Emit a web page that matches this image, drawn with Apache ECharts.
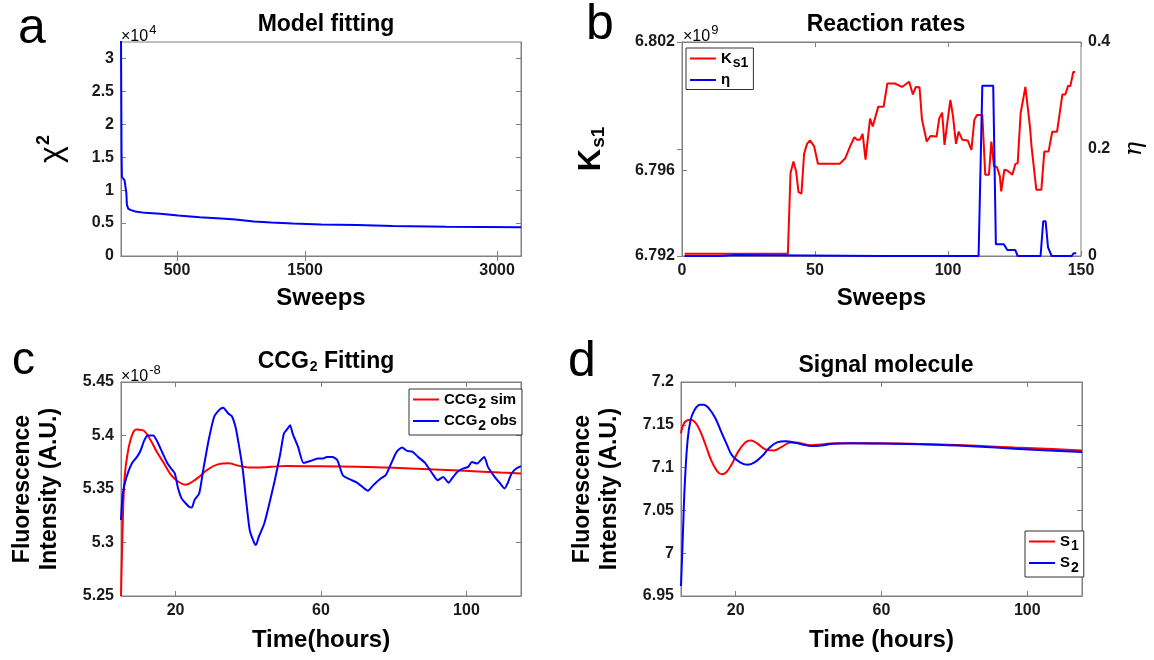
<!DOCTYPE html>
<html>
<head>
<meta charset="utf-8">
<script src="https://cdn.jsdelivr.net/npm/echarts@6/dist/echarts.min.js"></script>
<style>
  html, body { margin: 0; padding: 0; background: #fff; }
  #main { width: 1154px; height: 660px; }
</style>
</head>
<body>
<div id="main"></div>
<script>
const FONT = '"Liberation Sans", Arial, sans-serif';
const FRAME = '#808080';
const RED = '#ff0000';
const BLUE = '#0000ff';

// a: model fitting (chi2 in units of 1e4)
const sweepsA = [62, 64, 66, 69, 76, 90, 100, 104, 108, 118, 135, 174, 250, 369, 509, 676, 844, 956, 1100, 1235, 1403, 1626, 1906, 2185, 2604, 3187];
const chi2A = [3.3, 2.5, 1.6, 1.2, 1.17, 1.15, 1.13, 0.95, 0.78, 0.72, 0.70, 0.675, 0.655, 0.64, 0.615, 0.59, 0.57, 0.555, 0.525, 0.51, 0.495, 0.48, 0.47, 0.455, 0.445, 0.435];
const sweepTicksA = [500, 1500, 3000];
const chi2Ticks = [0, 0.5, 1, 1.5, 2, 2.5, 3];

// b: reaction rates (Ks1 in units of 1e9)
const sweepsK = [1, 39.8, 40.8, 41.9, 42.9, 43.8, 44.9, 45.9, 47, 48.1, 49.7, 51.1, 59.3, 61.4, 63.2, 64.8, 65.8, 66.9, 67.9, 69, 70.7, 71.7, 73.8, 75.8, 77.2, 80, 82.7, 85.4, 86.8, 87.9, 89.3, 90.2, 92, 93.4, 95.7, 96.7, 97.8, 98.7, 99.8, 100.9, 101.9, 103, 104, 105.4, 107.4, 108.8, 109.9, 110.9, 112.9, 114, 115.4, 116.3, 117.3, 118.4, 119.5, 120, 121.2, 122.3, 124.2, 125.3, 126.2, 127.3, 129.1, 130.8, 131.4, 133.2, 135.1, 136.2, 137.8, 139.2, 141, 143, 144.1, 145.1, 146, 147.1, 147.8];
const ks1 = [6.7921, 6.7921, 6.79588, 6.79642, 6.79595, 6.79498, 6.79491, 6.79678, 6.79724, 6.7974, 6.79712, 6.79631, 6.79631, 6.79657, 6.79712, 6.79755, 6.79743, 6.79743, 6.79771, 6.7965, 6.79842, 6.79805, 6.79898, 6.79898, 6.80006, 6.80006, 6.7999, 6.80014, 6.79955, 6.7999, 6.79988, 6.79839, 6.79735, 6.79761, 6.79758, 6.79843, 6.7987, 6.79719, 6.79828, 6.79929, 6.79851, 6.79724, 6.79781, 6.79743, 6.7974, 6.79696, 6.79836, 6.79859, 6.79859, 6.7958, 6.7958, 6.79735, 6.79619, 6.79616, 6.79572, 6.79502, 6.79603, 6.796, 6.7958, 6.79629, 6.79634, 6.79867, 6.7999, 6.79805, 6.79712, 6.7951, 6.7951, 6.79688, 6.79688, 6.79781, 6.79781, 6.79955, 6.79955, 6.79994, 6.79994, 6.8006, 6.8006];
const sweepsEta = [1, 14, 14.5, 20, 20.5, 74.5, 75, 75.5, 111.5, 112.9, 117, 118, 121, 122.3, 125.3, 126.2, 134.8, 135.8, 136.7, 137.6, 139, 146.5, 147.2, 148.2];
const eta = [0, 0, 0.002, 0.002, 0, 0, 0.003, 0, 0, 0.318, 0.318, 0.022, 0.022, 0.011, 0.011, 0, 0, 0.065, 0.065, 0.016, 0, 0, 0.005, 0.005];
const sweepTicksB = [0, 50, 100, 150];
const ks1Ticks = [6.792, 6.796, 6.802];
const etaTicks = [0, 0.2, 0.4];

// c: CCG2 fitting (units of 1e-8)
const hoursSim = [5, 5.5, 6, 6.8, 8, 9.2, 10.9, 12.9, 14.8, 16.8, 18.8, 20.7, 22.7, 24.7, 26.7, 28.6, 31.6, 34.5, 37.5, 41.4, 46.3, 50.3, 60.1, 70, 79.8, 89.6, 99.5, 109.3, 115];
const ccgSim = [5.25, 5.321, 5.361, 5.383, 5.40, 5.4055, 5.405, 5.397, 5.385, 5.374, 5.363, 5.357, 5.354, 5.357, 5.362, 5.3676, 5.373, 5.374, 5.3716, 5.370, 5.3707, 5.3716, 5.3713, 5.3707, 5.3698, 5.3685, 5.367, 5.3654, 5.3645];
const hoursObs = [5, 5.5, 6.5, 8, 9.4, 10.4, 11.4, 12.4, 13.9, 14.8, 16.3, 17.8, 18.8, 19.8, 20.7, 21.7, 22.7, 23.7, 24.5, 25.2, 26.5, 27.6, 29.1, 30.6, 32.1, 33.1, 34.5, 35.5, 36.5, 37.5, 38.5, 39.4, 40.4, 41.4, 42.1, 42.9, 44.4, 45.8, 47.3, 48.8, 49.8, 50.8, 51.5, 52.2, 53.7, 55.2, 57.2, 59.1, 60.6, 61.6, 63.1, 64.5, 66, 68, 70, 71.9, 72.9, 74.4, 76.4, 77.8, 79.3, 80.8, 82.3, 83.7, 85.2, 86.7, 88.6, 90.6, 92.1, 93.6, 95.1, 96, 97.5, 99, 100.5, 101.5, 102.9, 104.9, 105.9, 107.9, 109.3, 110.5, 111.3, 112.4, 113.7, 115];
const ccgObs = [5.321, 5.346, 5.361, 5.374, 5.380, 5.386, 5.3955, 5.400, 5.400, 5.3955, 5.3846, 5.3738, 5.369, 5.3645, 5.3505, 5.341, 5.337, 5.3334, 5.3327, 5.3396, 5.3458, 5.3676, 5.3956, 5.4173, 5.4242, 5.426, 5.4205, 5.418, 5.408, 5.3894, 5.3676, 5.3396, 5.3116, 5.3016, 5.2976, 5.3054, 5.3178, 5.3365, 5.3582, 5.383, 5.4018, 5.4064, 5.4096, 5.4018, 5.3893, 5.3744, 5.3763, 5.3785, 5.3785, 5.380, 5.380, 5.3769, 5.3629, 5.3589, 5.3558, 5.3505, 5.3483, 5.3536, 5.3598, 5.3629, 5.3738, 5.3847, 5.3887, 5.3856, 5.3847, 5.380, 5.3744, 5.3645, 5.3582, 5.3613, 5.3558, 5.3598, 5.366, 5.3691, 5.3707, 5.3753, 5.3738, 5.380, 5.3707, 5.3607, 5.3551, 5.3505, 5.3551, 5.3645, 5.3691, 5.3713];
const ccgTicks = [5.25, 5.3, 5.35, 5.4, 5.45];
const hourTicks = [20, 60, 100];

// d: signal molecule
const hoursS1 = [5, 6, 7.6, 8.9, 10.2, 11.8, 13.3, 14.9, 16.2, 17.5, 19, 20.6, 22.7, 24.2, 25.8, 28.4, 30.5, 32.5, 35.1, 37.2, 40.3, 43.5, 47.6, 54.9, 65.3, 75.7, 86.1, 96.5, 106.9, 115];
const s1 = [7.14, 7.1529, 7.156, 7.1529, 7.1432, 7.1258, 7.1084, 7.096, 7.0922, 7.0949, 7.1046, 7.1181, 7.1297, 7.1316, 7.1285, 7.1208, 7.12, 7.1239, 7.1293, 7.1289, 7.1262, 7.127, 7.1285, 7.1285, 7.1281, 7.127, 7.1254, 7.1235, 7.1216, 7.12];
const hoursS2 = [5, 5.5, 6, 6.8, 7.6, 8.6, 10.2, 11.2, 12.8, 14.4, 15.9, 17.5, 19, 21.1, 23.2, 25.3, 27.4, 29.4, 31.5, 33.6, 35.7, 38.3, 40.9, 43.5, 46.6, 51.8, 60.1, 70.5, 80.9, 91.3, 101.7, 115];
const s2 = [6.9616, 7.0196, 7.0775, 7.1316, 7.1548, 7.1664, 7.1734, 7.1734, 7.1684, 7.158, 7.1432, 7.1278, 7.1142, 7.1065, 7.1034, 7.1065, 7.1142, 7.1239, 7.1297, 7.1308, 7.1297, 7.127, 7.1251, 7.1258, 7.1278, 7.1285, 7.1281, 7.1274, 7.1258, 7.1235, 7.1208, 7.1181];
const sTicks = [6.95, 7, 7.05, 7.1, 7.15, 7.2];

function pairs(xs, ys) {
    return xs.map(function (x, i) { return [x, ys[i]]; });
}

const subRich = {
    sub: { fontSize: 14, fontWeight: 'bold', fontFamily: FONT, padding: [10, 0, 0, 1] },
    bigsub: { fontSize: 19, fontWeight: 'bold', fontFamily: FONT, padding: [14, 0, 0, 1] },
    sup: { fontSize: 13, fontFamily: FONT, padding: [0, 0, 12, 1] },
    bigsup: { fontSize: 18, fontWeight: 'bold', fontFamily: FONT, padding: [0, 0, 16, 1] }
};

function axis(grid, pos, min, max, ticks, showLabel, extra) {
    return Object.assign({
        type: 'value',
        gridIndex: grid,
        position: pos,
        min: min,
        max: max,
        axisLine: { show: true, lineStyle: { color: FRAME, width: 1 } },
        axisTick: { show: true, inside: true, length: 5, customValues: ticks, lineStyle: { color: FRAME } },
        axisLabel: {
            show: showLabel, customValues: ticks, color: '#1a1a1a',
            fontFamily: FONT, fontWeight: 'bold', fontSize: 16, margin: 7,
            formatter: function (v) { return String(v); }
        },
        splitLine: { show: false }
    }, extra || {});
}

function nameStyle(size, extra) {
    return Object.assign({
        fontFamily: FONT, fontWeight: 'bold', fontSize: size, color: '#000', rich: subRich
    }, extra || {});
}

const fluoName = {
    name: 'Fluorescence\nIntensity (A.U.)',
    nameLocation: 'middle', nameRotate: 90, nameGap: 58,
    nameTextStyle: nameStyle(23, { lineHeight: 27 })
};

function lineSeries(name, xi, yi, data, color, smooth) {
    return {
        name: name, type: 'line', xAxisIndex: xi, yAxisIndex: yi,
        data: data, showSymbol: false, symbol: 'none', smooth: smooth,
        lineStyle: { color: color, width: 2 }, itemStyle: { color: color }
    };
}

const legendLabels = {
    'Ks1': 'K{sub|s1}',
    'eta': 'η',
    'CCG2 sim': 'CCG{sub|2} sim',
    'CCG2 obs': 'CCG{sub|2} obs',
    'S1': 'S{sub|1}',
    'S2': 'S{sub|2}'
};

function legend(names, left, top) {
    return {
        data: names, left: left, top: top, orient: 'vertical',
        icon: 'rect', itemWidth: 26, itemHeight: 2, itemGap: 2,
        backgroundColor: '#fff', borderColor: '#333', borderWidth: 1, borderRadius: 0,
        padding: [3, 5, 2, 4],
        textStyle: { fontFamily: FONT, fontWeight: 'bold', fontSize: 15, color: '#000', rich: subRich },
        formatter: function (n) { return legendLabels[n]; }
    };
}

function label(text, left, top, size) {
    return {
        type: 'text', left: left, top: top,
        style: { text: text, fontSize: size, fontFamily: FONT, fill: '#000', rich: subRich }
    };
}

const chart = echarts.init(document.getElementById('main'));

const titleStyle = { fontFamily: FONT, fontWeight: 'bold', fontSize: 23, color: '#000', rich: subRich };

chart.setOption({
    animation: false,
    backgroundColor: '#fff',
    title: [
        { text: 'Model fitting', left: 321, top: 8, textAlign: 'center', textStyle: titleStyle },
        { text: 'Reaction rates', left: 881, top: 8, textAlign: 'center', textStyle: titleStyle },
        { text: 'CCG{sub|2} Fitting', left: 321, top: 345, textAlign: 'center', textStyle: titleStyle },
        { text: 'Signal molecule', left: 881, top: 349, textAlign: 'center', textStyle: titleStyle }
    ],
    graphic: [
        label('a', 18, 4, 50),
        label('b', 586, 0, 50),
        label('c', 12, 338, 46),
        label('d', 568, 337, 50),
        label('×10{sup|4}', 121, 24, 16),
        label('×10{sup|9}', 683, 24, 16),
        label('×10{sup|-8}', 121, 364, 16)
    ],
    grid: [
        { left: 121, top: 42, width: 400, height: 214, show: true, borderColor: FRAME, borderWidth: 1 },
        { left: 682, top: 42, width: 399, height: 214, show: true, borderColor: FRAME, borderWidth: 1 },
        { left: 121, top: 382, width: 400, height: 214, show: true, borderColor: FRAME, borderWidth: 1 },
        { left: 681, top: 382, width: 401, height: 214, show: true, borderColor: FRAME, borderWidth: 1 }
    ],
    legend: [
        legend(['Ks1', 'eta'], 686, 48),
        legend(['CCG2 sim', 'CCG2 obs'], 409, 389),
        legend(['S1', 'S2'], 1025, 531)
    ],
    xAxis: [
        axis(0, 'bottom', 62, 3187, sweepTicksA, true, {
            name: 'Sweeps', nameLocation: 'middle', nameGap: 30, nameTextStyle: nameStyle(24)
        }),
        axis(0, 'top', 62, 3187, sweepTicksA, false),
        axis(1, 'bottom', 0, 150, sweepTicksB, true, {
            name: 'Sweeps', nameLocation: 'middle', nameGap: 30, nameTextStyle: nameStyle(24)
        }),
        axis(1, 'top', 0, 150, sweepTicksB, false),
        axis(2, 'bottom', 5, 115, hourTicks, true, {
            name: 'Time(hours)', nameLocation: 'middle', nameGap: 32, nameTextStyle: nameStyle(24)
        }),
        axis(2, 'top', 5, 115, hourTicks, false),
        axis(3, 'bottom', 5, 115, hourTicks, true, {
            name: 'Time (hours)', nameLocation: 'middle', nameGap: 32, nameTextStyle: nameStyle(24)
        }),
        axis(3, 'top', 5, 115, hourTicks, false)
    ],
    yAxis: [
        axis(0, 'left', 0, 3.25, chi2Ticks, true, {
            name: 'χ{bigsup|2}', nameLocation: 'middle', nameRotate: 90, nameGap: 52,
            nameTextStyle: nameStyle(32, { fontWeight: 'normal' })
        }),
        axis(0, 'right', 0, 3.25, chi2Ticks, false),
        axis(1, 'left', 6.792, 6.802, ks1Ticks, true, {
            name: 'K{bigsub|s1}', nameLocation: 'middle', nameRotate: 90, nameGap: 74,
            nameTextStyle: nameStyle(31),
            axisLabel: {
                show: true, customValues: ks1Ticks, color: '#1a1a1a', fontFamily: FONT,
                fontWeight: 'bold', fontSize: 16, margin: 7,
                formatter: function (v) { return v.toFixed(3); }
            }
        }),
        axis(1, 'right', 0, 0.4, etaTicks, true, {
            name: 'η', nameLocation: 'middle', nameRotate: 90, nameGap: 42,
            nameTextStyle: { fontFamily: 'DejaVu Serif, serif', fontStyle: 'italic', fontSize: 24, color: '#000' }
        }),
        axis(2, 'left', 5.25, 5.45, ccgTicks, true, fluoName),
        axis(2, 'right', 5.25, 5.45, ccgTicks, false),
        axis(3, 'left', 6.95, 7.2, sTicks, true, fluoName),
        axis(3, 'right', 6.95, 7.2, sTicks, false)
    ],
    series: [
        lineSeries('chi2', 0, 0, pairs(sweepsA, chi2A), BLUE, false),
        lineSeries('Ks1', 2, 2, pairs(sweepsK, ks1), RED, false),
        lineSeries('eta', 2, 3, pairs(sweepsEta, eta), BLUE, false),
        lineSeries('CCG2 sim', 4, 4, pairs(hoursSim, ccgSim), RED, 0.4),
        lineSeries('CCG2 obs', 4, 4, pairs(hoursObs, ccgObs), BLUE, 0.2),
        lineSeries('S1', 6, 6, pairs(hoursS1, s1), RED, 0.4),
        lineSeries('S2', 6, 6, pairs(hoursS2, s2), BLUE, 0.4)
    ]
});
</script>
</body>
</html>
